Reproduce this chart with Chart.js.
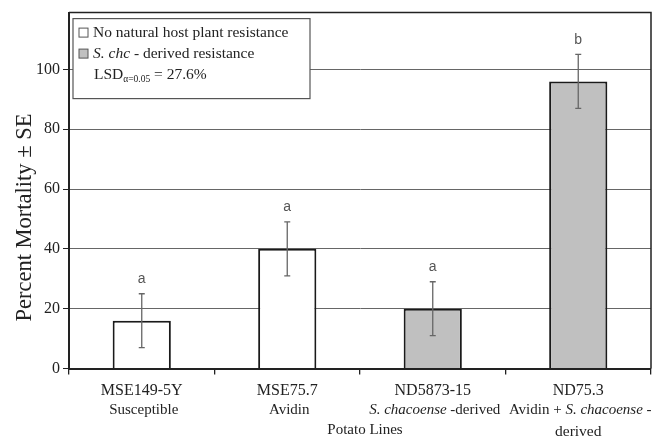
<!DOCTYPE html>
<html>
<head>
<meta charset="utf-8">
<script src="https://cdn.jsdelivr.net/npm/chart.js@4/dist/chart.umd.min.js"></script>
<style>
  html, body { margin: 0; padding: 0; background: #fff; }
  canvas { display: block; }
</style>
</head>
<body>
<canvas id="graficoMortalidad" width="664" height="438"></canvas>
<script>
// datos
const lineas = ['MSE149-5Y', 'MSE75.7', 'ND5873-15', 'ND75.3'];
// segunda y tercera linea de cada etiqueta: [texto, cursiva]
const descripcion = [
  [['Susceptible', false]],
  [['Avidin', false]],
  [['S. chacoense', true], [' -derived', false]],
  [['Avidin + ', false], ['S. chacoense', true], [' -', false]]
];
const descripcionExtra = ['', '', '', 'derived'];
const mortalidad = [16, 40, 20, 96];
const errorEstandar = [9, 9, 9, 9];
const letras = ['a', 'a', 'a', 'b'];
const derivadaChc = [false, false, true, true];
const ticksY = [0, 20, 40, 60, 80, 100];

const SERIF = '"Liberation Serif", "Times New Roman", serif';
const TEXTO = '#222';
const GRIS = '#c0c0c0';

function textoMixto(ctx, partes, xc, y, size) {
  let total = 0;
  const medidas = partes.map(([t, it]) => {
    ctx.font = (it ? 'italic ' : '') + size + 'px ' + SERIF;
    const w = ctx.measureText(t).width;
    total += w;
    return w;
  });
  let x = xc - total / 2;
  partes.forEach(([t, it], i) => {
    ctx.font = (it ? 'italic ' : '') + size + 'px ' + SERIF;
    ctx.fillText(t, x, y);
    x += medidas[i];
  });
}

const extras = {
  id: 'extras',
  afterDatasetsDraw(chart) {
    const ctx = chart.ctx;
    const xs = chart.scales.x, ys = chart.scales.y;
    ctx.save();
    // barras de error y letras
    mortalidad.forEach((v, i) => {
      const x = xs.getPixelForValue(i);
      const yTop = ys.getPixelForValue(v + errorEstandar[i]);
      const yBot = ys.getPixelForValue(v - errorEstandar[i]);
      ctx.strokeStyle = '#666';
      ctx.lineWidth = 1.3;
      ctx.beginPath();
      ctx.moveTo(x, yTop); ctx.lineTo(x, yBot);
      ctx.moveTo(x - 3, yTop); ctx.lineTo(x + 3, yTop);
      ctx.moveTo(x - 3, yBot); ctx.lineTo(x + 3, yBot);
      ctx.stroke();
      ctx.fillStyle = '#555';
      ctx.font = '14px "Liberation Sans", Arial, sans-serif';
      ctx.textAlign = 'center';
      ctx.textBaseline = 'alphabetic';
      ctx.fillText(letras[i], x, yTop - 10.5);
    });
    ctx.restore();
  },
  afterDraw(chart) {
    const ctx = chart.ctx;
    const a = chart.chartArea;
    const xs = chart.scales.x;
    ctx.save();
    // marco superior y derecho
    ctx.strokeStyle = TEXTO;
    ctx.lineWidth = 1.5;
    ctx.beginPath();
    ctx.moveTo(a.left, a.top); ctx.lineTo(a.right, a.top); ctx.lineTo(a.right, a.bottom);
    ctx.stroke();

    // leyenda
    const lx = a.left + 4, ly = a.top + 6;
    ctx.fillStyle = '#fff';
    ctx.fillRect(lx, ly, 237, 80);
    ctx.strokeStyle = '#555';
    ctx.lineWidth = 1.2;
    ctx.strokeRect(lx, ly, 237, 80);
    const filas = [ly + 14, ly + 35, ly + 56];
    [false, true].forEach((g, k) => {
      ctx.fillStyle = g ? GRIS : '#fff';
      ctx.fillRect(lx + 6, filas[k] - 4.5, 9, 9);
      ctx.strokeStyle = '#555';
      ctx.lineWidth = 1;
      ctx.strokeRect(lx + 6, filas[k] - 4.5, 9, 9);
    });
    ctx.fillStyle = TEXTO;
    ctx.textAlign = 'left';
    ctx.textBaseline = 'middle';
    ctx.font = '15.5px ' + SERIF;
    ctx.fillText('No natural host plant resistance', lx + 20, filas[0]);
    ctx.font = 'italic 15.5px ' + SERIF;
    ctx.fillText('S. chc', lx + 20, filas[1]);
    let w = ctx.measureText('S. chc').width;
    ctx.font = '15.5px ' + SERIF;
    ctx.fillText(' - derived resistance', lx + 20 + w, filas[1]);
    ctx.fillText('LSD', lx + 21, filas[2]);
    w = ctx.measureText('LSD').width;
    ctx.font = '9.5px ' + SERIF;
    ctx.fillText('\u03b1=0.05', lx + 21 + w, filas[2] + 5);
    const w2 = ctx.measureText('\u03b1=0.05').width;
    ctx.font = '15.5px ' + SERIF;
    ctx.fillText(' = 27.6%', lx + 21 + w + w2, filas[2]);

    // etiquetas del eje x
    ctx.textAlign = 'left';
    lineas.forEach((t, i) => {
      const x = xs.getPixelForValue(i);
      textoMixto(ctx, [[t, false]], x, a.bottom + 22.5, 16);
      textoMixto(ctx, descripcion[i], x + 2, a.bottom + 42, 15);
      if (descripcionExtra[i]) textoMixto(ctx, [[descripcionExtra[i], false]], x, a.bottom + 63.5, 15.5);
    });
    textoMixto(ctx, [['Potato Lines', false]], (a.left + a.right) / 2 + 5, a.bottom + 62, 15);

    // titulo del eje y
    ctx.translate(25, (a.top + a.bottom) / 2 + 27);
    ctx.rotate(-Math.PI / 2);
    ctx.textAlign = 'center';
    ctx.font = '22.5px ' + SERIF;
    ctx.fillText('Percent Mortality \u00b1 SE', 0, 0);
    ctx.restore();
  }
};

new Chart(document.getElementById('graficoMortalidad'), {
  type: 'bar',
  data: {
    labels: lineas,
    datasets: [{
      data: mortalidad,
      backgroundColor: derivadaChc.map(g => g ? GRIS : '#fff'),
      borderColor: '#1a1a1a',
      borderWidth: 2,
      barPercentage: 0.4,
      categoryPercentage: 1
    }]
  },
  options: {
    responsive: false,
    animation: false,
    layout: { padding: { left: 0, top: 12, right: 13, bottom: 0 } },
    plugins: { legend: { display: false }, tooltip: { enabled: false } },
    scales: {
      x: {
        afterFit: s => { s.height = 69.5; },
        ticks: { display: false },
        grid: { drawOnChartArea: false, offset: true, tickLength: 6, color: TEXTO, lineWidth: 1.3 },
        border: { color: TEXTO, width: 2 }
      },
      y: {
        min: 0,
        max: 119,
        afterFit: s => { s.width = 69; },
        afterBuildTicks: s => { s.ticks = ticksY.map(v => ({ value: v })); },
        ticks: { font: { family: SERIF, size: 16 }, color: TEXTO, padding: 3 },
        grid: { color: '#666', lineWidth: 1, tickLength: 6, tickColor: TEXTO },
        border: { color: TEXTO, width: 2 }
      }
    }
  },
  plugins: [extras]
});
</script>
</body>
</html>
